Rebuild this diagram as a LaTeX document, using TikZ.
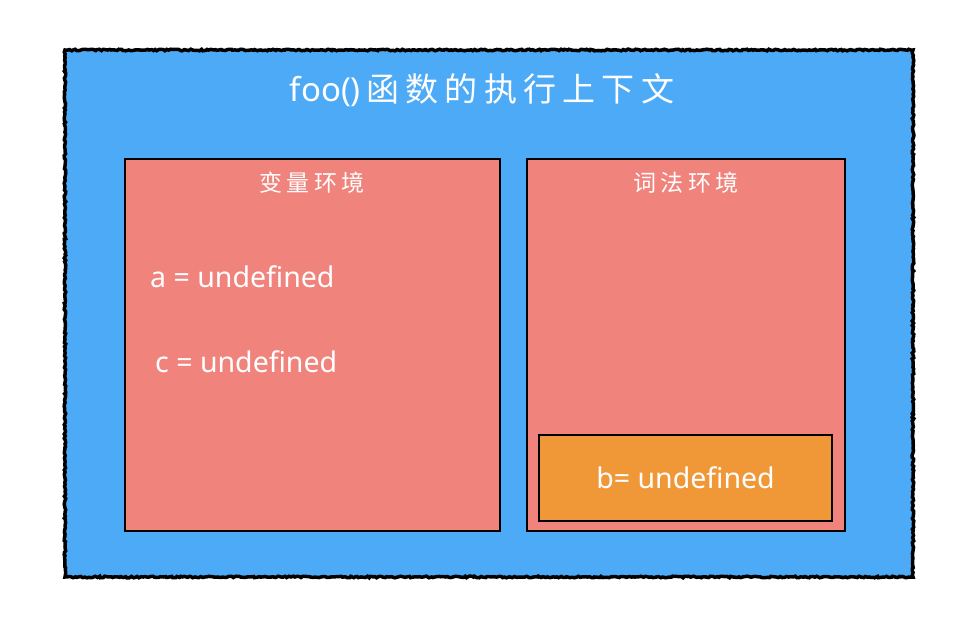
\documentclass[tikz,border=0pt]{standalone}
\usepackage{fontspec}
\setmainfont{Noto Sans}
\newfontfamily\cjk{Noto Sans CJK SC}
\usetikzlibrary{positioning, decorations.pathmorphing}
\definecolor{ctxblue}{RGB}{77,170,247}
\definecolor{envpink}{RGB}{240,131,124}
\definecolor{varorange}{RGB}{240,152,56}

\begin{document}
\begin{tikzpicture}[x=1pt, y=-1pt,
		box/.style={rectangle, draw=black, line width=2.2pt, inner sep=0pt},
		env/.style={box, fill=envpink, minimum height=372pt},
		txt/.style={text=white, inner sep=0pt}]
		\useasboundingbox (0,0) rectangle (966,634);
		\node[box, fill=ctxblue, line width=3.5pt, minimum width=848pt, minimum height=527pt, decorate, decoration={random steps, segment length=2pt, amplitude=0.8pt}] (ctx) at (489,313.5) {};
		\node[txt, font=\fontsize{33}{40}\selectfont] (title) at (482,90) {foo()\,{\cjk\addfontfeature{LetterSpace=19}函数的执行上下文}};
		\node[env, minimum width=375pt] (varenv) at (312.5,345) {};
		\node[env, minimum width=318pt] (lexenv) at (686,345) {};
		\node[box, fill=varorange, minimum width=293pt, minimum height=86pt] (bvar) at (685.5,478) {};
		\node[txt, font=\cjk\fontsize{23}{28}\selectfont\addfontfeature{LetterSpace=18}] (varlbl) at (312,183) {变量环境};
		\node[txt, font=\cjk\fontsize{23}{28}\selectfont\addfontfeature{LetterSpace=18}] (lexlbl) at (686,183) {词法环境};
		\node[txt, anchor=west, font=\fontsize{28.5}{34}\selectfont] (avar) at (150,277) {a = undefined};
		\node[txt, anchor=west, font=\fontsize{28.5}{34}\selectfont] (cvar) at (155,362) {c = undefined};
		\node[txt, font=\fontsize{28.5}{34}\selectfont] (btxt) at (bvar) {b= undefined};
	\end{tikzpicture}
\end{document}
